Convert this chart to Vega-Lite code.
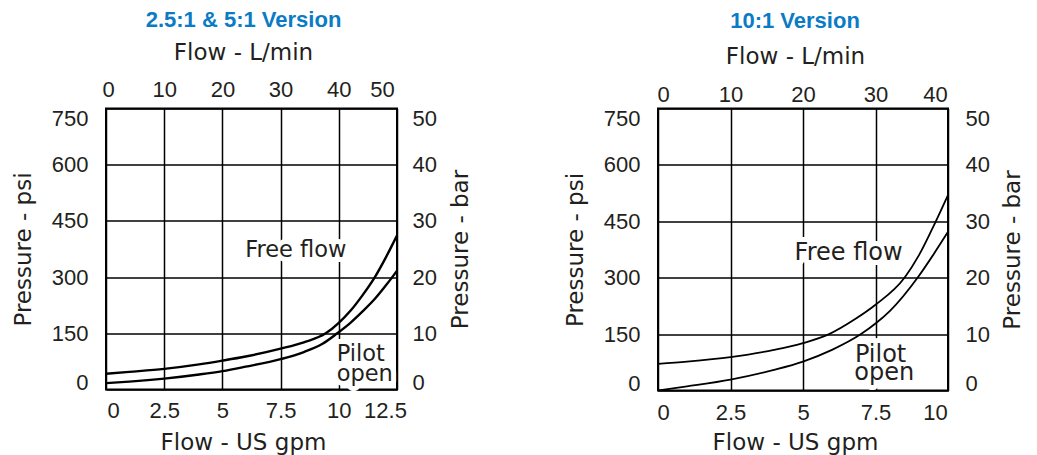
{
  "$schema": "https://vega.github.io/schema/vega-lite/v6.json",
  "background": "white",
  "autosize": {"type": "pad"},
  "padding": {"left": 11, "top": 7.5, "right": 0, "bottom": 0},
  "spacing": 89,
  "config": {
    "view": {"stroke": "black", "strokeWidth": 2},
    "axis": {
      "grid": false,
      "gridColor": "black",
      "gridWidth": 1.5,
      "gridOpacity": 1,
      "domain": false,
      "ticks": false,
      "labelFlush": false,
      "labelOverlap": false,
      "labelFont": "Liberation Sans",
      "labelFontSize": 22,
      "labelColor": "#231f20",
      "titleFont": "DejaVu Sans",
      "titleFontSize": 23,
      "titleFontWeight": "normal",
      "titleColor": "#231f20"
    },
    "title": {"font": "Liberation Sans", "fontSize": 22, "fontWeight": "bold", "color": "#0a7bc4", "anchor": "middle"}
  },
  "datasets": {
    "left_curves": [
      {"curve": "Free flow", "gpm": 0, "psi": 42},
      {"curve": "Free flow", "gpm": 1, "psi": 47},
      {"curve": "Free flow", "gpm": 2.5, "psi": 55},
      {"curve": "Free flow", "gpm": 4, "psi": 67},
      {"curve": "Free flow", "gpm": 5, "psi": 77},
      {"curve": "Free flow", "gpm": 6, "psi": 88},
      {"curve": "Free flow", "gpm": 7.5, "psi": 109},
      {"curve": "Free flow", "gpm": 8.5, "psi": 126},
      {"curve": "Free flow", "gpm": 9.44, "psi": 150},
      {"curve": "Free flow", "gpm": 10, "psi": 178},
      {"curve": "Free flow", "gpm": 10.5, "psi": 210},
      {"curve": "Free flow", "gpm": 11, "psi": 250},
      {"curve": "Free flow", "gpm": 11.55, "psi": 300},
      {"curve": "Free flow", "gpm": 12, "psi": 350},
      {"curve": "Free flow", "gpm": 12.37, "psi": 395},
      {"curve": "Free flow", "gpm": 12.5, "psi": 411},
      {"curve": "Pilot open", "gpm": 0, "psi": 17},
      {"curve": "Pilot open", "gpm": 1, "psi": 21},
      {"curve": "Pilot open", "gpm": 2.5, "psi": 29},
      {"curve": "Pilot open", "gpm": 4, "psi": 40},
      {"curve": "Pilot open", "gpm": 5, "psi": 49},
      {"curve": "Pilot open", "gpm": 6, "psi": 61},
      {"curve": "Pilot open", "gpm": 7.5, "psi": 81},
      {"curve": "Pilot open", "gpm": 8.5, "psi": 100},
      {"curve": "Pilot open", "gpm": 9.3, "psi": 122},
      {"curve": "Pilot open", "gpm": 9.93, "psi": 150},
      {"curve": "Pilot open", "gpm": 10.5, "psi": 178},
      {"curve": "Pilot open", "gpm": 11, "psi": 207},
      {"curve": "Pilot open", "gpm": 11.58, "psi": 244},
      {"curve": "Pilot open", "gpm": 12, "psi": 276},
      {"curve": "Pilot open", "gpm": 12.37, "psi": 306},
      {"curve": "Pilot open", "gpm": 12.5, "psi": 317}
    ],
    "right_curves": [
      {"curve": "Free flow", "gpm": 0, "psi": 71},
      {"curve": "Free flow", "gpm": 1, "psi": 77},
      {"curve": "Free flow", "gpm": 2.5, "psi": 89},
      {"curve": "Free flow", "gpm": 4, "psi": 108},
      {"curve": "Free flow", "gpm": 5, "psi": 126},
      {"curve": "Free flow", "gpm": 5.9, "psi": 150},
      {"curve": "Free flow", "gpm": 6.8, "psi": 190},
      {"curve": "Free flow", "gpm": 7.5, "psi": 228},
      {"curve": "Free flow", "gpm": 8.5, "psi": 300},
      {"curve": "Free flow", "gpm": 9, "psi": 360},
      {"curve": "Free flow", "gpm": 9.58, "psi": 450},
      {"curve": "Free flow", "gpm": 10, "psi": 520},
      {"curve": "Pilot open", "gpm": 0, "psi": 0},
      {"curve": "Pilot open", "gpm": 1, "psi": 11},
      {"curve": "Pilot open", "gpm": 2.5, "psi": 29},
      {"curve": "Pilot open", "gpm": 4, "psi": 55},
      {"curve": "Pilot open", "gpm": 5, "psi": 77},
      {"curve": "Pilot open", "gpm": 6, "psi": 108},
      {"curve": "Pilot open", "gpm": 7, "psi": 150},
      {"curve": "Pilot open", "gpm": 7.5, "psi": 178},
      {"curve": "Pilot open", "gpm": 8, "psi": 212},
      {"curve": "Pilot open", "gpm": 8.95, "psi": 300},
      {"curve": "Pilot open", "gpm": 9.5, "psi": 362},
      {"curve": "Pilot open", "gpm": 10, "psi": 422}
    ],
    "left_notes": [
      {"text": "Free flow", "gpm": 5.98, "psi": 353},
      {"text": "Pilot", "gpm": 9.91, "psi": 75.6},
      {"text": "open", "gpm": 9.91, "psi": 24}
    ],
    "right_notes": [
      {"text": "Free flow", "gpm": 4.71, "psi": 346},
      {"text": "Pilot", "gpm": 6.79, "psi": 75.4},
      {"text": "open", "gpm": 6.77, "psi": 26.6}
    ],
    "left_metric": [{"lpm": 0, "bar": 0}, {"lpm": 50, "bar": 50}],
    "right_metric": [{"lpm": 0, "bar": 0}, {"lpm": 40, "bar": 50}]
  },
  "hconcat": [
    {
      "title": {"text": "2.5:1 & 5:1 Version", "dx": -8, "offset": 10},
      "width": 291,
      "height": 281,
      "layer": [
        {
          "data": {"name": "left_notes"},
          "mark": {"type": "text", "align": "left", "baseline": "alphabetic", "font": "DejaVu Sans", "fontSize": 22.5, "stroke": "white", "strokeWidth": 10, "strokeJoin": "round", "color": "white"},
          "encoding": {
            "x": {"field": "gpm", "type": "quantitative", "scale": {"domain": [0, 12.5]},
              "axis": {"orient": "bottom", "title": "Flow - US gpm", "grid": true, "values": [0, 2.5, 5, 7.5, 10, 12.5], "format": ".1~f", "labelPadding": 11, "titlePadding": 9.5, "titleX": 137,
                "labelOffset": {"condition": [{"test": "datum.value == 0", "value": 7}, {"test": "datum.value == 12.5", "value": -12}], "value": 0}}},
            "y": {"field": "psi", "type": "quantitative", "scale": {"domain": [0, 750]},
              "axis": {"orient": "left", "title": "Pressure - psi", "grid": true, "values": [0, 150, 300, 450, 600, 750], "labelPadding": 18, "titlePadding": 16,
                "labelBaseline": {"condition": [{"test": "datum.value == 0", "value": "alphabetic"}, {"test": "datum.value == 750", "value": "top"}], "value": "middle"}}},
            "text": {"field": "text"}
          }
        },
        {
          "data": {"name": "left_curves"},
          "mark": {"type": "line", "color": "black", "strokeWidth": 2.4, "interpolate": "monotone"},
          "encoding": {
            "x": {"field": "gpm", "type": "quantitative", "scale": {"domain": [0, 12.5]}, "axis": null},
            "y": {"field": "psi", "type": "quantitative", "scale": {"domain": [0, 750]}, "axis": null},
            "detail": {"field": "curve"}
          }
        },
        {
          "data": {"name": "left_notes"},
          "mark": {"type": "text", "align": "left", "baseline": "alphabetic", "font": "DejaVu Sans", "fontSize": 22.5, "color": "#231f20"},
          "encoding": {
            "x": {"field": "gpm", "type": "quantitative", "scale": {"domain": [0, 12.5]}, "axis": null},
            "y": {"field": "psi", "type": "quantitative", "scale": {"domain": [0, 750]}, "axis": null},
            "text": {"field": "text"}
          }
        },
        {
          "data": {"name": "left_metric"},
          "mark": {"type": "point", "opacity": 0},
          "encoding": {
            "x": {"field": "lpm", "type": "quantitative", "scale": {"domain": [0, 50]},
              "axis": {"orient": "top", "title": "Flow - L/min", "values": [0, 10, 20, 30, 40, 50], "labelPadding": 7, "titlePadding": 14, "titleX": 137,
                "labelOffset": {"condition": [{"test": "datum.value == 0", "value": 2}, {"test": "datum.value == 50", "value": -15}], "value": 0}}},
            "y": {"field": "bar", "type": "quantitative", "scale": {"domain": [0, 50]},
              "axis": {"orient": "right", "title": "Pressure - bar", "titleAngle": 270, "titleBaseline": "top", "values": [0, 10, 20, 30, 40, 50], "labelPadding": 15, "titlePadding": 13,
                "labelBaseline": {"condition": [{"test": "datum.value == 0", "value": "alphabetic"}, {"test": "datum.value == 50", "value": "top"}], "value": "middle"}}}
          }
        }
      ],
      "resolve": {"scale": {"x": "independent", "y": "independent"}}
    },
    {
      "title": {"text": "10:1 Version", "dx": -8, "offset": 12.7},
      "width": 290,
      "height": 282,
      "layer": [
        {
          "data": {"name": "right_notes"},
          "mark": {"type": "text", "align": "left", "baseline": "alphabetic", "font": "DejaVu Sans", "fontSize": 24, "stroke": "white", "strokeWidth": 10, "strokeJoin": "round", "color": "white"},
          "encoding": {
            "x": {"field": "gpm", "type": "quantitative", "scale": {"domain": [0, 10]},
              "axis": {"orient": "bottom", "title": "Flow - US gpm", "grid": true, "values": [0, 2.5, 5, 7.5, 10], "format": ".1~f", "labelPadding": 11.5, "titlePadding": 8, "titleX": 137,
                "labelOffset": {"condition": [{"test": "datum.value == 0", "value": 5}, {"test": "datum.value == 10", "value": -13}], "value": 0}}},
            "y": {"field": "psi", "type": "quantitative", "scale": {"domain": [0, 750]},
              "axis": {"orient": "left", "title": "Pressure - psi", "grid": true, "values": [0, 150, 300, 450, 600, 750], "labelPadding": 18, "titlePadding": 16,
                "labelBaseline": {"condition": [{"test": "datum.value == 0", "value": "alphabetic"}, {"test": "datum.value == 750", "value": "top"}], "value": "middle"}}},
            "text": {"field": "text"}
          }
        },
        {
          "data": {"name": "right_curves"},
          "mark": {"type": "line", "color": "black", "strokeWidth": 1.8, "interpolate": "monotone"},
          "encoding": {
            "x": {"field": "gpm", "type": "quantitative", "scale": {"domain": [0, 10]}, "axis": null},
            "y": {"field": "psi", "type": "quantitative", "scale": {"domain": [0, 750]}, "axis": null},
            "detail": {"field": "curve"}
          }
        },
        {
          "data": {"name": "right_notes"},
          "mark": {"type": "text", "align": "left", "baseline": "alphabetic", "font": "DejaVu Sans", "fontSize": 24, "color": "#231f20"},
          "encoding": {
            "x": {"field": "gpm", "type": "quantitative", "scale": {"domain": [0, 10]}, "axis": null},
            "y": {"field": "psi", "type": "quantitative", "scale": {"domain": [0, 750]}, "axis": null},
            "text": {"field": "text"}
          }
        },
        {
          "data": {"name": "right_metric"},
          "mark": {"type": "point", "opacity": 0},
          "encoding": {
            "x": {"field": "lpm", "type": "quantitative", "scale": {"domain": [0, 40]},
              "axis": {"orient": "top", "title": "Flow - L/min", "values": [0, 10, 20, 30, 40], "labelPadding": 2, "titlePadding": 14.6, "titleX": 137,
                "labelOffset": {"condition": [{"test": "datum.value == 0", "value": 5}, {"test": "datum.value == 40", "value": -13}], "value": 0}}},
            "y": {"field": "bar", "type": "quantitative", "scale": {"domain": [0, 50]},
              "axis": {"orient": "right", "title": "Pressure - bar", "titleAngle": 270, "titleBaseline": "top", "values": [0, 10, 20, 30, 40, 50], "labelPadding": 17, "titlePadding": 12,
                "labelBaseline": {"condition": [{"test": "datum.value == 0", "value": "alphabetic"}, {"test": "datum.value == 50", "value": "top"}], "value": "middle"}}}
          }
        }
      ],
      "resolve": {"scale": {"x": "independent", "y": "independent"}}
    }
  ]
}
